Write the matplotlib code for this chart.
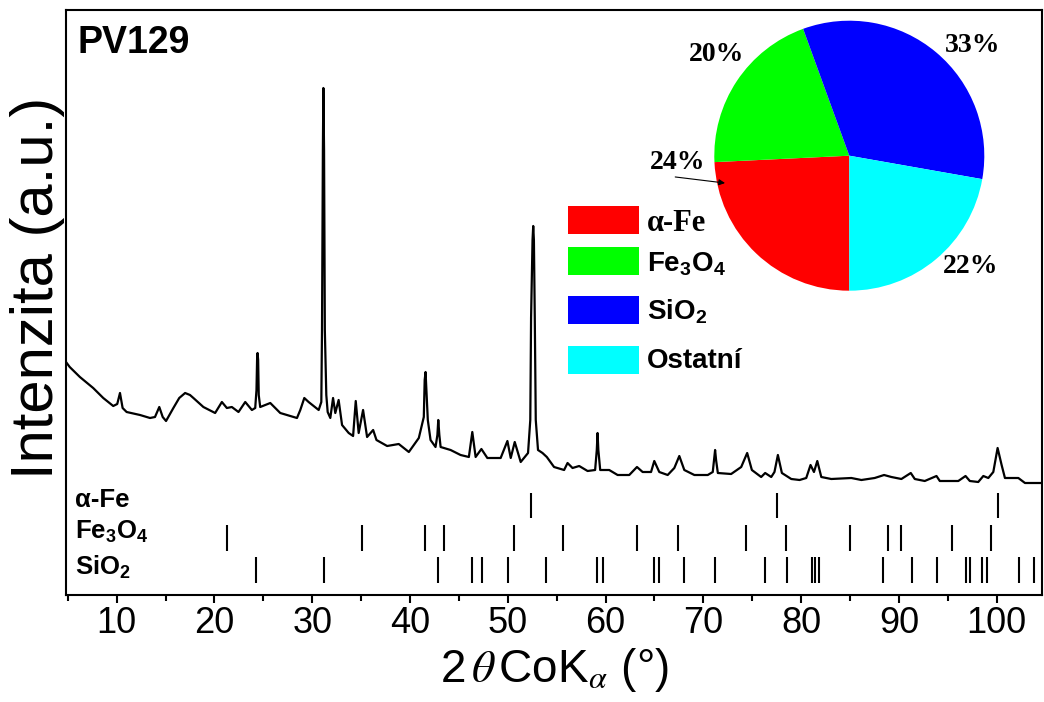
import matplotlib
matplotlib.use("Agg")
import matplotlib.pyplot as plt
from matplotlib.patches import Rectangle

# Measured powder pattern (2theta in degrees, Co K-alpha; intensity in arbitrary units)
two_theta = [
    4.82, 5.20, 6.24, 7.60, 8.63, 9.65, 10.06, 10.34, 10.61, 11.02,
    12.39, 13.41, 13.92, 14.36, 14.71, 15.05, 15.80, 16.40, 17.00, 17.50, 17.85, 18.87,
    20.07, 20.76, 21.27, 21.78, 22.46, 23.15, 23.83, 24.17, 24.30, 24.36,
    24.41, 24.47, 24.53, 24.68, 25.71, 26.73, 27.76, 28.44, 28.78, 29.19,
    29.63, 30.66, 30.93, 31.00, 31.09, 31.14, 31.21, 31.29, 31.44, 31.58,
    31.85, 32.13, 32.36, 32.70, 33.05, 33.73, 34.18, 34.45, 34.75, 35.20,
    35.61, 36.23, 36.57, 37.66, 38.85, 39.88, 40.90, 41.41, 41.50, 41.59,
    41.82, 42.10, 42.61, 42.80, 42.89, 43.00, 43.13, 44.15, 45.17, 46.02,
    46.37, 46.71, 47.30, 47.91, 49.27, 49.96, 50.30, 50.71, 51.32, 52.07,
    52.30, 52.38, 52.53, 52.60, 52.67, 52.76, 52.86, 53.09, 53.55, 53.99,
    54.73, 55.76, 56.11, 56.62, 57.30, 58.16, 58.93, 59.10, 59.18, 59.26,
    59.45, 60.37, 61.23, 62.42, 63.21, 63.79, 64.65, 64.98, 65.49, 66.35,
    67.03, 67.54, 68.05, 69.08, 70.45, 70.96, 71.12, 71.20, 71.30, 71.48,
    72.84, 73.87, 74.48, 74.96, 75.91, 76.32, 76.94, 77.27, 77.62, 78.03,
    78.99, 79.84, 80.52, 80.96, 81.31, 81.65, 82.06, 83.08, 85.13, 86.16,
    87.52, 88.48, 89.23, 90.25, 91.21, 91.62, 92.64, 93.84, 94.18, 96.07,
    96.81, 97.25, 98.11, 98.63, 99.14, 99.65, 100.09, 100.50, 100.84, 102.21,
    102.89, 104.63,
]
intensity = [
    233, 228, 218, 207, 197, 189, 191, 202, 187, 183,
    180, 177, 178, 188, 178, 174, 187, 197, 202, 200, 197, 188,
    182, 193, 187, 188, 183, 193, 185, 187, 205, 235,
    242, 235, 200, 188, 192, 182, 179, 177, 185, 197,
    193, 185, 193, 265, 445, 507, 445, 265, 200, 183,
    177, 197, 182, 195, 170, 162, 159, 194, 162, 185,
    158, 165, 155, 149, 151, 143, 157, 178, 215, 223,
    175, 155, 148, 160, 175, 160, 148, 145, 140, 138,
    163, 138, 146, 137, 137, 154, 137, 153, 133, 142,
    175, 277, 355, 369, 355, 277, 175, 145, 142, 138,
    128, 125, 132, 127, 129, 124, 125, 145, 162, 145,
    125, 125, 120, 120, 128, 123, 123, 134, 123, 120,
    127, 139, 125, 120, 120, 123, 138, 145, 135, 122,
    121, 128, 142, 125, 118, 122, 118, 123, 140, 122,
    116, 115, 117, 130, 123, 134, 118, 116, 117, 115,
    117, 120, 118, 116, 122, 116, 114, 119, 114, 114,
    119, 114, 113, 119, 117, 123, 147, 130, 117, 117,
    112, 112,
]

# Reference reflection positions (2theta, Co K-alpha)
alpha_fe_lines = [52.4, 77.5, 100.1]
magnetite_lines = [21.3, 35.1, 41.5, 43.5, 50.6, 55.6, 63.2, 67.4, 74.4,
                   78.5, 85.0, 88.9, 90.2, 95.4, 99.4]
quartz_lines = [24.3, 31.2, 42.9, 46.3, 47.4, 50.0, 53.9, 59.1, 59.7, 65.0,
                65.5, 68.0, 71.2, 76.3, 78.6, 81.1, 81.4, 81.8, 88.4, 91.3,
                93.9, 96.9, 97.3, 98.5, 99.0, 102.3, 103.8]

# Phase composition (%)
phase_labels = ["α-Fe", r"Fe$_\mathbf{3}$O$_\mathbf{4}$", r"SiO$_\mathbf{2}$", "Ostatní"]
phase_shares = [24, 20, 33, 22]
phase_colors = ["#ff0000", "#00ff00", "#0000ff", "#00ffff"]

x_ticks = [10, 20, 30, 40, 50, 60, 70, 80, 90, 100]

plt.rcParams["font.family"] = ["Liberation Sans", "DejaVu Sans"]
plt.rcParams["mathtext.fontset"] = "custom"
plt.rcParams["mathtext.rm"] = "Liberation Sans"
plt.rcParams["mathtext.bf"] = "Liberation Sans:bold"
plt.rcParams["mathtext.it"] = "Liberation Sans:italic"

W, H = 1044, 702
fig = plt.figure(figsize=(W / 100, H / 100), dpi=100)


def fx(x):
    return x / W


def fy(y):
    return 1 - y / H


ax = fig.add_axes([fx(66), fy(595), (1042 - 66) / W, (595 - 10) / H])
ax.plot(two_theta, intensity, color="black", lw=1.6)

# Stick rows for the reference phases
rows = [(alpha_fe_lines, 77, 102), (magnetite_lines, 44, 70), (quartz_lines, 12, 38)]
for lines, lo, hi in rows:
    ax.vlines(lines, lo, hi, color="black", lw=1.5)

row_texts = [("α-Fe", 500), (r"Fe$_\mathbf{3}$O$_\mathbf{4}$", 532), (r"SiO$_\mathbf{2}$", 567)]
for txt, ypx in row_texts:
    ax.text(0.009, (595 - ypx) / 585, txt, transform=ax.transAxes,
            fontsize=18.5, fontweight="bold", ha="left", va="center")

ax.set_xlim(4.82, 104.63)
ax.set_ylim(0, 585)
ax.set_xticks(x_ticks)
ax.set_xticks([x + 5 for x in [0] + x_ticks[:-1]], minor=True)
ax.set_yticks([])
ax.tick_params(axis="x", which="major", direction="out", length=6, width=1.5,
               labelsize=26, pad=2, top=False)
ax.tick_params(axis="x", which="minor", direction="out", length=4, width=1.5, top=False)
for s in ax.spines.values():
    s.set_linewidth(1.5)

ax.set_xlabel(r"2$\,\theta\,$CoK$_{\alpha}$ (°)", fontsize=33, math_fontfamily="stix",
              va="baseline")
ax.xaxis.set_label_coords(0.5, (595 - 682) / 585)
ax.set_ylabel("Intenzita (a.u.)", fontsize=43, va="center")
ax.yaxis.set_label_coords((38 - 66) / 976, (595 - 288) / 585)

ax.text((78 - 66) / 976, (595 - 53) / 585, "PV129", transform=ax.transAxes,
        fontsize=27, fontweight="bold", ha="left", va="baseline")

# Composition pie
cx, cy, r = 849.3, 155.7, 135
pax = fig.add_axes([fx(cx - r), fy(cy + r), 2 * r / W, 2 * r / H])
pax.pie(phase_shares, colors=phase_colors, startangle=270, counterclock=False,
        wedgeprops=dict(linewidth=0))
pax.set_xlim(-1, 1)
pax.set_ylim(-1, 1)
pax.set_aspect("equal")

label_pos = [(-1.27, -0.05), (-0.98, 0.75), (0.91, 0.82), (0.90, -0.82)]
for share, (lx, ly) in zip(phase_shares, label_pos):
    pax.text(lx, ly, f"{share}%", fontsize=20, fontweight="bold",
             family=["Liberation Serif"], ha="center", va="center", clip_on=False)
pax.annotate("", xy=(-0.90, -0.205), xytext=(-1.31, -0.155),
             arrowprops=dict(arrowstyle="-|>", color="black", lw=0.8, mutation_scale=9),
             annotation_clip=False)

# Legend for the pie
box_tops = [206, 246.7, 296, 345.7]
baselines = [230.7, 271, 320, 367.7]
for i, (lab, col) in enumerate(zip(phase_labels, phase_colors)):
    fig.add_artist(Rectangle((fx(568.3), fy(box_tops[i] + 28)), 71 / W, 28 / H,
                             transform=fig.transFigure, facecolor=col, edgecolor="none"))
    fam = ["Liberation Serif"] if i == 0 else ["Liberation Sans"]
    size = 22 if i == 0 else 20
    fig.text(fx(647), fy(baselines[i]), lab, fontsize=size, fontweight="bold",
             family=fam, ha="left", va="baseline")

fig.savefig("out.png", dpi=100)
